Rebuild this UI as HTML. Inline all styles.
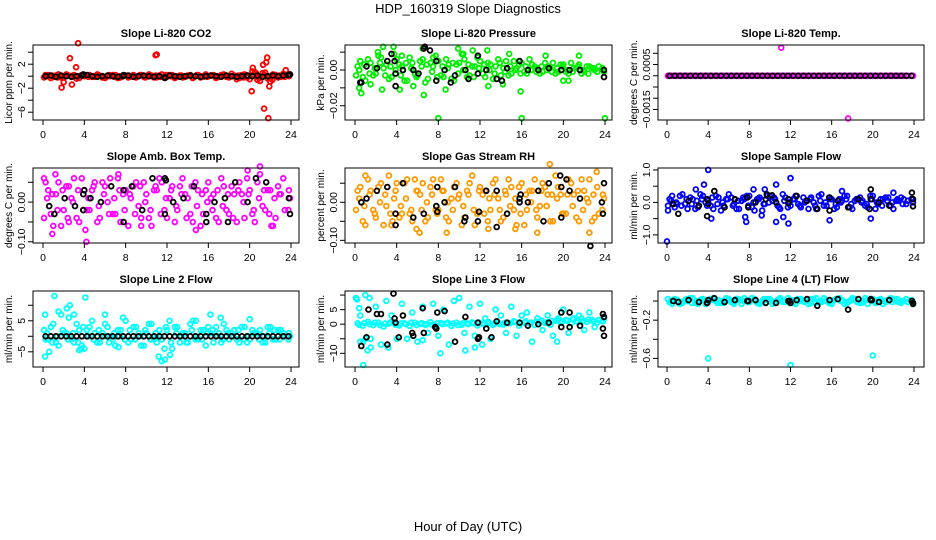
<!DOCTYPE html>
<html>
<head>
<meta charset="utf-8">
<style>
html,body{margin:0;padding:0;background:#fff;}
svg{display:block;font-family:"Liberation Sans",sans-serif;}
</style>
</head>
<body>
<svg id="chart" width="936" height="540" viewBox="0 0 936 540">
<text x="468" y="13" text-anchor="middle" font-size="13">HDP_160319  Slope Diagnostics</text>
<text x="468" y="531" text-anchor="middle" font-size="13">Hour of Day (UTC)</text>
</svg>
<script>
const T48a=[0.25,0.75,1.25,1.75,2.25,2.75,3.25,3.75,4.25,4.75,5.25,5.75,6.25,6.75,7.25,7.75,8.25,8.75,9.25,9.75,10.25,10.75,11.25,11.75,12.25,12.75,13.25,13.75,14.25,14.75,15.25,15.75,16.25,16.75,17.25,17.75,18.25,18.75,19.25,19.75,20.25,20.75,21.25,21.75,22.25,22.75,23.25,23.75];
const T48b=[0.1,0.5,1,1.5,2,2.5,3,3.5,4,4.5,5,5.5,6,6.5,7,7.5,8,8.5,9,9.5,10,10.5,11,11.5,12,12.5,13,13.5,14,14.5,15,15.5,16,16.5,17,17.5,18,18.5,19,19.5,20,20.5,21,21.5,22,22.5,23,23.9];
const T48c=[0.4,0.9,1.4,1.9,2.4,2.9,3.4,3.9,4.4,4.9,5.4,5.9,6.4,6.9,7.4,7.9,8.4,8.9,9.4,9.9,10.4,10.9,11.4,11.9,12.4,12.9,13.4,13.9,14.4,14.9,15.4,15.9,16.4,16.9,17.4,17.9,18.4,18.9,19.4,19.9,20.4,20.9,21.4,21.9,22.4,22.9,23.4,23.8];
const T24=[0.6,1.1,2.1,3.1,3.9,4.6,5.6,6.6,7.8,8.6,9.6,10.6,11.8,12.6,13.6,14.6,15.8,16.6,17.6,18.6,19.8,20.6,21.6,23.9];
const xTicks=[0,4,8,12,16,20,24];

// Panel 1 CO2
const p1C1=[0.2,-0.3,0.1,-0.2,0.3,0.0,-0.4,0.2,0.1,-0.1,0.3,-0.2,0.0,0.2,-0.3,0.1,-0.2,0.2,0.0,-0.1,0.3,-0.2,0.1,0.0,0.2,-0.3,0.1,-0.1,0.2,0.0,-0.2,0.3,0.1,-0.3,0.2,-0.1,0.4,-0.5,0.2,-0.2,0.8,-0.6,0.5,-0.4,0.3,-0.2,0.4,0.1];
const p1C2=[-0.2,0.2,-0.1,0.3,-0.2,0.1,0.2,-0.3,0.0,0.2,-0.1,0.1,-0.3,0.0,0.2,-0.2,0.1,0.0,-0.2,0.2,-0.1,0.1,-0.2,0.3,-0.1,0.2,0.0,-0.2,0.1,-0.3,0.2,-0.1,0.0,0.2,-0.1,0.3,-0.2,0.1,-0.3,0.3,-0.5,0.7,-0.8,0.6,-0.3,0.2,-0.1,0.3];
const p1C3=[0.0,0.1,-0.2,0.0,0.1,-0.1,0.0,0.2,-0.1,0.0,0.1,-0.1,0.2,-0.1,0.0,0.1,-0.1,0.0,0.2,-0.2,0.0,0.1,-0.1,0.2,0.0,-0.1,0.1,0.0,-0.1,0.2,0.0,-0.1,0.1,0.0,0.2,-0.1,0.0,0.1,-0.2,0.0,0.3,-0.3,0.2,-0.2,0.0,0.1,-0.1,0.0];
const p1Out=[[2.6,3.0],[3.4,5.5],[1.8,-1.9],[2.0,-1.0],[2.8,-1.4],[3.2,1.5],[10.9,3.5],[11.0,3.6],[20.2,-2.5],[20.3,1.4],[21.4,-5.4],[21.6,2.3],[21.7,3.1],[21.8,-7.0],[21.9,-1.7],[21.3,1.9],[22.0,-0.9],[23.5,1.0],[22.2,-0.6],[20.6,0.5]];
const p1K=[0.0,0.1,-0.1,0.1,0.0,-0.1,0.0,0.1,0.2,0.0,-0.1,0.0,0.1,0.0,-0.1,0.0,0.1,-0.1,0.0,0.1,0.0,-0.1,0.0,-0.2,0.1,0.0,-0.1,0.0,0.1,0.0,-0.1,0.0,0.1,0.0,-0.1,0.1,0.0,-0.1,0.0,0.1,0.0,0.1,-0.1,0.0,0.1,0.0,0.1,0.2];
const p1KOut=[[3.9,0.3],[7.8,0.2],[11.8,-0.3],[19.8,0.1],[23.9,0.3]];

// Panel 2 Pressure
const p2C1=[0.002,-0.004,0.006,-0.003,0.008,0.001,-0.005,0.009,0.003,-0.006,0.007,-0.002,0.005,-0.007,0.004,0.008,-0.003,0.006,-0.005,0.003,0.009,-0.004,0.002,0.007,-0.002,0.004,-0.005,0.006,0.001,-0.003,0.005,0.003,-0.001,0.006,0.002,-0.002,0.004,0.001,-0.002,0.003,-0.001,0.004,0.001,-0.002,0.002,0.001,-0.001,0.001];
const p2C2=[-0.003,0.005,-0.006,0.004,-0.002,0.007,0.003,-0.004,0.006,0.002,-0.006,0.004,-0.003,0.006,-0.005,0.002,0.005,-0.004,0.003,-0.006,0.004,0.006,-0.003,0.002,0.005,-0.004,0.003,0.002,-0.003,0.005,-0.002,0.001,0.004,-0.002,0.003,0.001,-0.001,0.002,0.004,-0.001,0.003,-0.002,0.001,0.003,-0.001,0.002,0.000,-0.001];
const p2C3=[0.000,0.003,-0.002,0.001,0.004,-0.003,0.002,0.000,-0.003,0.004,0.001,-0.004,0.002,0.003,-0.001,-0.004,0.002,0.001,0.004,-0.002,0.000,0.003,-0.004,0.001,0.003,0.000,-0.002,0.004,-0.001,0.002,0.000,-0.002,0.002,0.000,-0.001,0.002,0.000,-0.001,0.001,0.002,0.000,-0.001,0.002,0.000,-0.002,0.001,0.002,0.000];
const p2Out=[[8,-0.027],[16,-0.027],[24,-0.027],[15.9,-0.012],[0.6,-0.013],[2.7,0.013],[3.7,0.013],[6.5,0.012],[9.9,0.012],[11.3,0.011],[12.7,0.011],[0.4,-0.01],[6.6,-0.014],[2.6,-0.011],[4.3,-0.011],[8.7,-0.011],[12.8,-0.009],[14.2,-0.008],[1.5,-0.008],[5.6,-0.009],[18.3,0.008],[21.5,0.008],[20.5,-0.006],[20,-0.006],[2.2,0.01],[4.5,0.008],[7.5,0.007],[10.4,0.009],[14.8,0.009]];
const p2K=[-0.007,0.002,0.001,0.005,-0.009,0.000,0.000,0.012,-0.006,0.000,-0.003,0.000,0.008,0.000,-0.005,0.001,0.005,0.000,0.000,0.001,0.000,0.000,0.000,0.000];
const p2KOut=[[0.5,-0.007],[3.8,0.005],[3.9,-0.002],[6.7,0.013],[7.2,0.011],[7.8,0.005],[9.2,-0.007],[10.9,-0.005],[11.8,-0.002],[14.1,-0.006],[23.9,-0.004],[6.1,-0.002],[3.5,0.009]];

// Panel 3 Li-820 Temp
const p3C1=[0,0,0,0,0,0,0,0,0,0,0,0,0,0,0,0,0,0,0,0,0,0,0,0,0,0,0,0,0,0,0,0,0,0,0,0,0,0,0,0,0,0,0,0,0,0,0,0];
const p3C2=[0,0,0,0,0,0,0,0,0,0,0,0,0,0,0,0,0,0,0,0,0,0,0,0,0,0,0,0,0,0,0,0,0,0,0,0,0,0,0,0,0,0,0,0,0,0,0,0];
const p3C3=[0,0,0,0,0,0,0,0,0,0,0,0,0,0,0,0,0,0,0,0,0,0,0,0,0,0,0,0,0,0,0,0,0,0,0,0,0,0,0,0,0,0,0,0,0,0,0,0];
const p3Out=[[11.1,0.00125],[17.6,-0.0019],[0.1,0.0]];
const p3K=[0,0,0,0,0,0,0,0,0,0,0,0,0,0,0,0,0,0,0,0,0,0,0,0,0,0,0,0,0,0,0,0,0,0,0,0,0,0,0,0,0,0,0,0,0,0,0,0];
const p3KOut=[];

// Panel 4 Amb Box Temp
const p4C1=[0.05,-0.03,0.02,-0.06,0.04,0.01,-0.04,0.06,-0.02,0.03,-0.05,0.05,0.00,-0.03,0.06,0.02,-0.06,0.04,-0.01,0.05,-0.04,0.03,0.06,-0.02,0.01,-0.05,0.04,0.02,-0.03,0.05,-0.06,0.03,0.01,-0.04,0.06,-0.02,0.04,-0.05,0.02,0.06,-0.03,0.05,-0.01,0.03,-0.06,0.04,0.06,-0.02];
const p4C2=[-0.04,0.03,-0.06,0.05,-0.02,0.04,0.06,-0.05,0.03,-0.02,0.05,-0.04,0.04,0.06,-0.03,-0.05,0.03,0.01,0.05,-0.04,0.02,-0.06,0.03,0.05,-0.04,0.04,-0.02,0.06,0.01,-0.05,0.03,-0.03,0.05,0.02,-0.05,0.04,-0.03,0.02,0.05,-0.04,0.03,-0.05,0.07,-0.02,0.03,-0.04,0.02,0.01];
const p4C3=[0.01,0.02,-0.02,0.03,-0.04,0.00,0.03,-0.02,0.01,0.04,-0.01,0.02,-0.03,0.01,0.03,-0.02,0.02,-0.03,0.04,0.00,-0.02,0.04,-0.03,0.01,0.03,-0.01,0.02,-0.04,0.04,-0.01,0.02,0.00,-0.02,0.03,-0.01,0.02,-0.04,0.03,0.00,0.02,-0.02,0.01,0.03,-0.03,0.01,0.02,-0.02,0.03];
const p4Out=[[0.9,-0.08],[4.2,-0.1],[4.1,-0.07],[21,0.09],[7.3,0.07],[19.8,0.08],[0.1,0.06],[1.2,0.07],[2.5,-0.05],[9.5,-0.06],[14.8,-0.07],[22.1,-0.06]];
const p4K=[-0.01,-0.03,0.01,-0.01,0.02,0.01,0.00,0.04,0.03,0.04,-0.02,0.06,-0.03,0.00,0.01,0.04,-0.03,0.00,0.01,0.05,0.00,0.06,0.05,-0.03];
const p4KOut=[[7.8,-0.05],[15.8,-0.05],[17.9,-0.05],[23.8,0.01],[4.0,0.03],[3.9,-0.02],[11.8,0.06],[11.9,0.055]];

// Panel 5 Gas Stream RH
const p5C1=[0.03,-0.05,0.06,-0.02,0.04,-0.06,0.07,0.01,-0.04,0.05,-0.03,0.06,0.02,-0.05,0.04,-0.02,0.06,-0.04,0.01,0.05,-0.06,0.03,0.07,-0.03,0.02,-0.05,0.05,0.01,-0.04,0.06,-0.02,0.04,-0.06,0.03,0.06,-0.01,0.04,-0.05,0.07,0.02,-0.03,0.05,-0.04,0.06,0.01,-0.05,0.04,-0.02];
const p5C2=[-0.02,0.04,-0.06,0.03,-0.04,0.05,-0.01,-0.06,0.05,-0.03,0.06,-0.05,0.03,0.05,-0.04,0.06,-0.02,0.03,-0.05,0.04,0.02,-0.04,0.05,-0.06,0.04,0.03,-0.02,0.06,-0.05,0.02,0.04,-0.06,0.05,-0.02,0.03,-0.04,0.05,0.02,-0.05,0.04,-0.03,0.06,0.02,-0.05,0.03,0.06,-0.04,0.01];
const p5C3=[0.01,-0.01,0.02,-0.03,0.00,0.02,-0.03,0.03,-0.01,0.01,-0.02,0.03,-0.02,0.00,0.02,-0.03,0.03,0.00,-0.02,0.01,-0.01,0.02,-0.02,0.03,-0.03,0.01,0.02,-0.02,0.03,-0.01,0.01,-0.03,0.02,0.00,-0.02,0.03,-0.01,0.02,0.01,-0.03,0.02,-0.01,0.03,-0.02,0.00,0.02,-0.03,0.02];
const p5Out=[[18.7,0.1],[8.8,-0.08],[6.2,-0.08],[22.5,-0.08],[1.0,0.07],[23.2,0.08],[3.6,-0.05],[5.9,-0.07],[12.8,-0.07],[15.4,-0.07],[17.5,-0.08]];
const p5K=[0.00,0.01,0.03,0.04,-0.03,0.05,-0.04,-0.03,-0.01,0.00,0.04,-0.04,-0.05,0.03,0.03,-0.03,0.01,0.00,0.03,0.05,0.04,0.03,0.01,0.05];
const p5KOut=[[22.6,-0.115],[13.6,-0.065],[3.9,-0.06],[19.7,0.07],[20.3,0.06],[18.1,-0.05],[19.8,-0.04],[23.8,-0.03],[23.7,0.0],[10.5,-0.05],[11.9,-0.025],[7.9,-0.025],[7.9,0.04],[15.8,0.0],[15.9,0.02]];

// Panel 6 Sample Flow
const p6C1=[0.1,-0.15,0.2,-0.05,0.15,-0.2,0.25,0.0,-0.1,0.2,-0.25,0.1,0.15,-0.2,0.05,0.2,-0.15,0.1,-0.25,0.2,0.05,-0.1,0.25,-0.15,0.1,-0.05,0.15,-0.2,0.0,0.2,-0.1,0.15,-0.2,0.1,0.2,-0.15,0.05,0.15,-0.1,0.2,-0.2,0.1,0.15,-0.1,0.05,0.15,-0.05,0.1];
const p6C2=[-0.1,0.2,-0.05,0.25,-0.2,0.1,-0.15,0.2,0.05,-0.2,0.15,-0.1,0.25,-0.05,-0.2,0.1,0.2,-0.25,0.15,-0.05,0.2,0.1,-0.2,0.15,-0.1,0.2,-0.15,0.05,0.15,-0.2,0.25,-0.1,0.1,-0.15,0.05,0.2,-0.2,0.1,0.05,-0.15,0.2,-0.05,0.1,0.15,-0.2,0.05,0.1,0.0];
const p6C3=[0.05,0.0,-0.1,0.1,-0.05,0.05,0.1,-0.1,0.15,-0.05,0.0,0.1,-0.1,0.05,0.15,-0.1,0.0,0.1,-0.05,0.0,0.15,-0.15,0.05,0.0,0.1,-0.1,0.0,0.1,-0.1,0.05,0.0,0.1,-0.05,0.0,0.1,-0.05,0.1,0.0,-0.05,0.1,0.0,-0.1,0.05,0.0,0.1,-0.05,0.05,0.1];
const p6Out=[[0,-1.2],[4,1.0],[12,0.75],[3.6,0.55],[0.1,-0.25],[7.7,-0.6],[11.8,-0.65],[10.6,-0.6],[15.8,-0.55],[19.8,-0.5],[11.3,-0.45],[4.3,-0.5],[9.5,0.4],[2.8,0.4],[8.4,0.4],[17,0.35],[22,0.3],[10.6,0.55],[7.6,-0.45],[9.2,-0.4]];
const p6K=[-0.05,-0.35,0.05,-0.1,0.1,0.35,-0.15,0.1,0.15,0.0,0.1,0.0,0.1,0.2,0.05,-0.2,0.15,0.05,-0.15,0.1,0.1,0.0,-0.1,0.1];
const p6KOut=[[3.9,-0.42],[4.0,-0.05],[7.9,-0.15],[15.8,-0.25],[19.8,0.4],[19.7,-0.2],[23.8,0.3],[23.9,-0.12],[11.8,-0.02],[9.7,0.25],[10.2,0.22]];

// Panel 7 Line 2 Flow
const p7C1=[-1,3,-2,7,1,-1,4,-3,2,5,-2,1,3,-1,2,6,-2,3,1,-3,4,-1,2,-4,5,3,-2,1,4,-1,2,-3,1,3,-2,2,1,-1,3,-2,2,1,-2,3,-1,2,1,-1];
const p7C2=[2,-1,4,-3,1,6,-2,2,-4,3,1,-2,4,0,-3,2,5,-1,3,-3,1,4,-2,-1,2,-4,3,1,-2,5,-1,2,3,-2,1,4,-1,2,-2,3,-1,1,2,-2,3,-1,2,0];
const p7C3=[1,-2,0,2,-1,1,-2,3,0,-1,2,0,-2,1,0,-1,2,-1,0,2,-1,1,0,3,-2,1,0,-2,2,0,-1,1,2,0,-1,1,0,2,-1,0,1,-1,0,1,2,-1,0,1];
const p7Out=[[1.1,13],[4.1,12.5],[0.2,-6.5],[0.6,-5],[11.2,-6.5],[11.5,-8],[11.8,-7.5],[12.3,-6],[1.5,8],[2.3,9],[2.6,10],[3.0,7],[7.3,-3.5],[3.5,-4.5],[0.2,7],[6.0,7],[3.7,-4],[14.8,5],[16.2,7],[17.2,6],[20.0,5.5]];
const p7K=[0,0,0,0,0,0,0,0,0,0,0,0,0,0,0,0,0,0,0,0,0,0,0,0,0,0,0,0,0,0,0,0,0,0,0,0,0,0,0,0,0,0,0,0,0,0,0,0];
const p7KOut=[];

// Panel 8 Line 3 Flow
const p8C1=[0.3,-0.5,0.8,-0.3,0.5,-0.8,0.2,0.6,-0.4,0.3,-0.6,0.5,0.1,-0.3,0.7,-0.5,0.4,0.2,-0.6,0.5,-0.2,0.3,0.6,-0.4,0.2,0.8,-0.3,0.5,-0.1,0.4,1.0,-0.5,0.6,0.2,-0.3,0.8,0.4,-0.2,1.2,0.5,1.5,0.3,1.0,2.0,0.8,1.5,0.5,1.2];
const p8C2=[9,-6,10,-5,6,-7,8,3,-5,7,-5,4,-6,6,-3,7,-4,5,-7,8,9,-3,6,-4,7,2,-5,5,3,-3,6,-4,3,4,-6,2,-2,3,-4,2,5,-3,2,3,-2,4,-1,2];
const p8C3=[-0.2,0.4,0.0,0.5,-0.3,0.2,0.6,-0.2,0.3,0.0,0.5,-0.3,0.4,0.1,-0.2,0.3,0.0,0.5,0.2,-0.3,0.4,0.0,0.3,0.6,-0.1,0.4,0.2,0.0,0.5,0.3,0.8,0.2,1.0,0.5,0.9,1.3,0.6,1.1,1.4,0.9,1.2,1.8,0.7,1.1,1.6,0.9,1.4,1.0];
const p8Out=[[0.2,8.5],[0.4,5.5],[0.5,3],[1.2,-9],[0.8,-6],[1.0,-5],[1.5,-8],[1.4,9],[0.8,-14],[8.2,-10],[10.6,-9],[11.5,-8],[12.2,-7],[3.2,-8],[6.5,-5.5],[19.4,-6]];
const p8K=[-7.5,-4.5,3.5,-7,0.5,3,-4,-3,-1.5,4.5,-6,2.5,0.5,-1.5,1,0.5,0.5,-0.5,0,0.5,4,-1,-0.5,2.5];
const p8KOut=[[1.3,5],[2.5,3.5],[3.7,10.5],[3.8,2],[7.7,-1],[7.9,4],[11.8,-5],[11.9,-4.5],[13.1,-4.5],[19.8,-1],[20.6,4],[23.8,-1.5],[23.9,-4],[23.8,3.5],[4.2,-4.5],[5.5,-3],[6.5,5.5]];

// Panel 9 Line 4 (LT) Flow
const p9C1=[-0.01,0.02,-0.03,0.01,0.03,-0.02,0.01,-0.03,0.02,0.00,-0.02,0.03,-0.01,0.02,-0.03,0.01,0.03,-0.02,0.00,0.02,-0.03,0.01,-0.01,0.03,-0.02,0.02,0.00,-0.03,0.02,-0.01,0.03,-0.02,0.01,0.03,-0.03,0.00,0.02,-0.02,0.03,0.01,-0.02,0.02,-0.01,0.03,0.00,-0.02,0.02,-0.01];
const p9C2=[0.02,-0.03,0.01,-0.02,0.00,0.03,-0.03,0.02,-0.01,0.03,0.01,-0.02,0.02,-0.03,0.01,0.03,-0.01,0.02,-0.03,0.01,0.02,-0.02,0.03,-0.01,0.01,-0.03,0.02,0.01,-0.02,0.03,-0.01,0.00,-0.03,0.02,0.01,-0.02,0.03,-0.01,0.00,-0.03,0.02,0.01,-0.03,0.01,0.02,-0.01,0.00,-0.02];
const p9C3=[0.00,0.01,-0.01,0.02,-0.02,0.00,0.02,-0.01,0.01,-0.02,0.00,0.01,-0.02,0.02,0.00,-0.01,0.01,-0.02,0.02,0.00,-0.01,0.02,0.00,-0.02,0.01,0.00,-0.01,0.02,-0.02,0.00,0.01,-0.01,0.02,0.00,-0.01,0.01,0.00,-0.02,0.01,0.02,-0.01,0.00,0.01,-0.01,0.02,0.00,-0.01,0.01];
const p9Out=[[4,-0.6],[12,-0.67],[20,-0.57]];
const p9K=[0.0,-0.01,0.01,-0.01,-0.02,0.03,-0.01,0.01,0.00,0.01,-0.02,-0.02,0.00,0.01,0.02,-0.05,0.01,0.02,-0.09,0.02,0.01,-0.01,0.01,-0.02];
const p9KOut=[[3.9,-0.02],[4.0,0.01],[7.9,0.0],[11.9,0.0],[12.0,-0.02],[19.8,0.02],[19.9,0.01],[23.8,0.0],[23.9,-0.03]];

// Axis tick values and labels
const p1YTicks=[4,2,0,-2,-4,-6], p1YLabels=[[2,"2"],[-2,"-2"],[-6,"-6"]];
const p2YTicks=[0.01,0,-0.01,-0.02], p2YLabels=[[0,"0.00"],[-0.02,"-0.02"]];
const p3YTicks=[0.001,0.0005,0,-0.0005,-0.001,-0.0015], p3YLabels=[[0.0005,"0.0005"],[-0.0015,"-0.0015"]];
const p4YTicks=[0.05,0,-0.05,-0.1], p4YLabels=[[0,"0.00"],[-0.1,"-0.10"]];
const p5YTicks=[0.05,0,-0.05,-0.1], p5YLabels=[[0,"0.00"],[-0.1,"-0.10"]];
const p6YTicks=[1,0.5,0,-0.5,-1], p6YLabels=[[1,"1.0"],[0,"0.0"],[-1,"-1.0"]];
const p7YTicks=[10,5,0,-5], p7YLabels=[[5,"5"],[-5,"-5"]];
const p8YTicks=[10,5,0,-5,-10], p8YLabels=[[5,"5"],[0,"0"],[-10,"-10"]];
const p9YTicks=[0,-0.2,-0.4,-0.6], p9YLabels=[[-0.2,"-0.2"],[-0.6,"-0.6"]];

const NS="http://www.w3.org/2000/svg";
const svg=document.getElementById('chart');
function mk(tag,attrs,parent){const e=document.createElementNS(NS,tag);for(const k in attrs)e.setAttribute(k,attrs[k]);(parent||svg).appendChild(e);return e;}

const cols=[{bl:33,br:299,x0:43,x24:291},{bl:345,br:612,x0:355,x24:605},{bl:658,br:924,x0:667,x24:914}];
const rows=[{t:45,b:120},{t:168,b:243},{t:291,b:367}];

const panels=[
 {slug:'li820-co2',title:'Slope Li-820 CO2',yt:'Licor ppm per min.',col:0,row:0,ymax:5.2,ymin:-7.3,color:'#ff0000',c1:p1C1,c2:p1C2,c3:p1C3,out:p1Out,k:p1K,kT:T48a,kOut:p1KOut,yTicks:p1YTicks,yLabels:p1YLabels},
 {slug:'li820-pressure',title:'Slope Li-820 Pressure',yt:'kPa per min.',col:1,row:0,ymax:0.014,ymin:-0.028,color:'#00ee00',c1:p2C1,c2:p2C2,c3:p2C3,out:p2Out,k:p2K,kT:T24,kOut:p2KOut,yTicks:p2YTicks,yLabels:p2YLabels},
 {slug:'li820-temp',title:'Slope Li-820 Temp.',yt:'degrees C per min.',col:2,row:0,ymax:0.00137,ymin:-0.00197,color:'#ff00ff',c1:p3C1,c2:p3C2,c3:p3C3,out:p3Out,k:p3K,kT:T48a,kOut:p3KOut,yTicks:p3YTicks,yLabels:p3YLabels},
 {slug:'amb-box-temp',title:'Slope Amb. Box Temp.',yt:'degrees C per min.',col:0,row:1,ymax:0.086,ymin:-0.103,color:'#ff00ff',c1:p4C1,c2:p4C2,c3:p4C3,out:p4Out,k:p4K,kT:T24,kOut:p4KOut,yTicks:p4YTicks,yLabels:p4YLabels},
 {slug:'gas-stream-rh',title:'Slope Gas Stream RH',yt:'percent per min.',col:1,row:1,ymax:0.09,ymin:-0.107,color:'#ff9900',c1:p5C1,c2:p5C2,c3:p5C3,out:p5Out,k:p5K,kT:T24,kOut:p5KOut,yTicks:p5YTicks,yLabels:p5YLabels},
 {slug:'sample-flow',title:'Slope Sample Flow',yt:'ml/min per min.',col:2,row:1,ymax:1.06,ymin:-1.25,color:'#0000ff',c1:p6C1,c2:p6C2,c3:p6C3,out:p6Out,k:p6K,kT:T24,kOut:p6KOut,yTicks:p6YTicks,yLabels:p6YLabels},
 {slug:'line2-flow',title:'Slope Line 2 Flow',yt:'ml/min per min.',col:0,row:2,ymax:14.6,ymin:-9.9,color:'#00ffff',c1:p7C1,c2:p7C2,c3:p7C3,out:p7Out,k:p7K,kT:T48a,kOut:p7KOut,yTicks:p7YTicks,yLabels:p7YLabels},
 {slug:'line3-flow',title:'Slope Line 3 Flow',yt:'ml/min per min.',col:1,row:2,ymax:11.4,ymin:-14.7,color:'#00ffff',c1:p8C1,c2:p8C2,c3:p8C3,out:p8Out,k:p8K,kT:T24,kOut:p8KOut,yTicks:p8YTicks,yLabels:p8YLabels},
 {slug:'line4-flow',title:'Slope Line 4 (LT) Flow',yt:'ml/min per min.',col:2,row:2,ymax:0.105,ymin:-0.69,color:'#00ffff',c1:p9C1,c2:p9C2,c3:p9C3,out:p9Out,k:p9K,kT:T24,kOut:p9KOut,yTicks:p9YTicks,yLabels:p9YLabels}
];

panels.forEach(p=>{
  const c=cols[p.col], r=rows[p.row];
  const xs=h=>c.x0+(c.x24-c.x0)*h/24;
  const ys=v=>r.t+(p.ymax-v)/(p.ymax-p.ymin)*(r.b-r.t);
  const g=mk('g',{});
  
  
  const ttl=mk('text',{x:(c.bl+c.br)/2,y:r.t-8,'text-anchor':'middle','font-size':'11','font-weight':'bold'},g);
  ttl.textContent=p.title;
  
  
  const yt=mk('text',{transform:`translate(${c.bl-21},${(r.t+r.b)/2}) rotate(-90)`,'text-anchor':'middle','font-size':'10'},g);
  yt.textContent=p.yt;
  
  
  const pts=mk('g',{fill:'none','stroke-width':'1.8'},g);
  
  
  const dot=(h,v,col)=>{
    const e=mk('circle',{cx:xs(h).toFixed(1),cy:ys(v).toFixed(1),r:'2.4',stroke:col},pts);
    
    
  };
  p.c1.forEach((v,i)=>dot(T48a[i],v,p.color));
  p.c2.forEach((v,i)=>dot(T48b[i],v,p.color));
  p.c3.forEach((v,i)=>dot(T48c[i],v,p.color));
  p.out.forEach(d=>dot(d[0],d[1],p.color));
  p.k.forEach((v,i)=>dot(p.kT[i],v,'#000'));
  p.kOut.forEach(d=>dot(d[0],d[1],'#000'));
  const box=mk('rect',{x:c.bl,y:r.t,width:c.br-c.bl,height:r.b-r.t,fill:'none',stroke:'#000','stroke-width':'1'},g);
  
  
  const ax=mk('g',{stroke:'#000','stroke-width':'1'},g);
  
  
  mk('line',{x1:xs(0),x2:xs(24),y1:r.b,y2:r.b},ax);
  xTicks.forEach(t=>{
    mk('line',{x1:xs(t),x2:xs(t),y1:r.b,y2:r.b+5},ax);
    const tl=mk('text',{x:xs(t),y:r.b+18,'text-anchor':'middle','font-size':'10.5',stroke:'none',fill:'#000'},g);
    tl.textContent=t;
    
    
  });
  p.yTicks.forEach(t=>mk('line',{x1:c.bl-5,x2:c.bl,y1:ys(t),y2:ys(t)},ax));
  p.yLabels.forEach(l=>{
    const tl=mk('text',{transform:`translate(${c.bl-8},${ys(l[0])}) rotate(-90)`,'text-anchor':'middle','font-size':'10.5'},g);
    tl.textContent=l[1].replace('-','\u2212');
    
    
  });
});
</script>
</body>
</html>
